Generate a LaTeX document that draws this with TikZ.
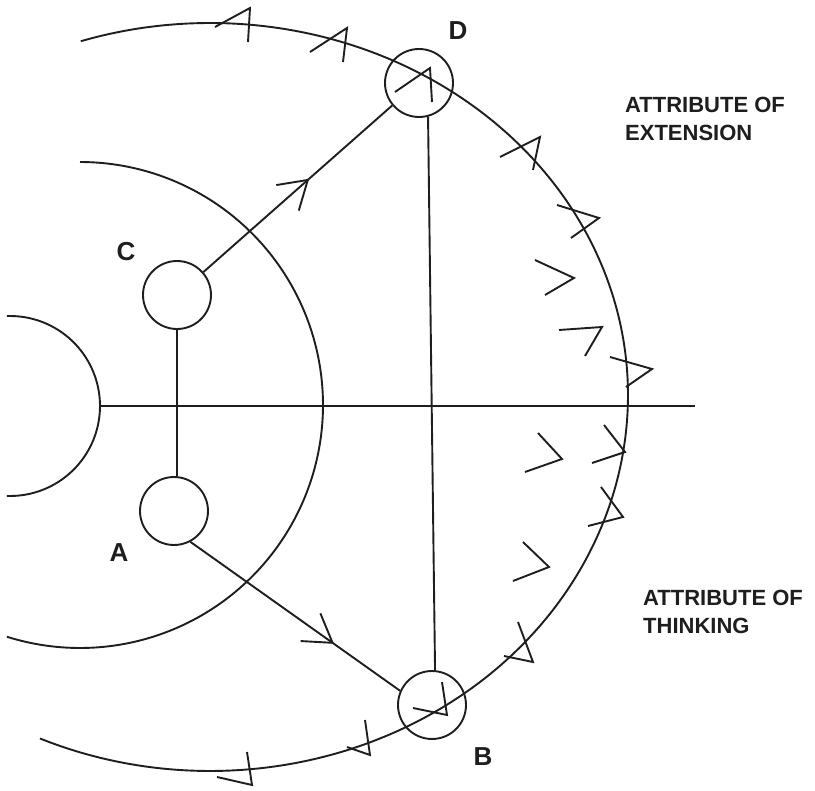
\documentclass[tikz,border=0pt]{standalone}
\usepackage{fontspec}
\setmainfont{Liberation Sans}
\usetikzlibrary{arrows.meta,decorations.markings}
\definecolor{ink}{HTML}{1E1E1E}
\begin{document}
\begin{tikzpicture}[x=1pt,y=-1pt,
  ln/.style={line width=1.9pt,draw=ink},
  ring/.style={circle,draw=ink,line width=1.9pt,minimum size=68pt,inner sep=0pt},
  lbl/.style={font=\fontsize{26}{26}\selectfont\bfseries,inner sep=0pt,text=ink},
  attr/.style={font=\fontsize{22}{28}\selectfont\bfseries,inner sep=0pt,align=left,anchor=north west,text=ink},
  chev/.style={line width=1.9pt,draw=ink,line join=miter},
  midarrow/.style={postaction={decorate},decoration={markings,mark=at position #1 with {\arrow{Straight Barb[length=27pt,width=34pt]}}}}
]
\useasboundingbox (0,0) rectangle (815,791);

% outer, middle, inner curves
\draw[ln] plot[domain=-114:108,samples=150,smooth] ({210+418*cos(\x)},{395-(\x<0 ? 376 : 372)*sin(\x)});
\draw[ln] plot[domain=-107.5:90,samples=120,smooth] ({80+243*cos(\x)},{405-243*sin(\x)});
\draw[ln] plot[domain=-92:92,samples=80,smooth] ({10+90*cos(\x)},{406-90*sin(\x)});

% horizontal axis
\coordinate (h1) at (100,406);
\coordinate (h2) at (695,406);
\draw[ln] (h1) -- (h2);

% nodes
\node[ring] (C) at (177,295) {};
\node[ring] (A) at (174,511) {};
\node[ring] (D) at (419,83) {};
\node[ring] (B) at (432,705) {};

\node[lbl] (lD) at (458,31) {D};
\node[lbl] (lC) at (126,252) {C};
\node[lbl] (lA) at (119,553) {A};
\node[lbl] (lB) at (483,757) {B};

\node[attr] (ext) at (625,97) {ATTRIBUTE OF\\EXTENSION};
\node[attr] (thk) at (643,590) {ATTRIBUTE OF\\THINKING};

% connectors
\draw[ln] (C.south) -- (A.85);
\draw[ln] (D.-75) -- (B.85);
\draw[ln,midarrow=0.56] (C.41) -- (D.220);
\draw[ln,midarrow=0.685] (A.-62) -- (B.156);

% chevron marks
\draw[chev] (215,27) -- (250,8) -- (248,42);
\draw[chev] (310,52) -- (347,28) -- (343,62);
\draw[chev] (395,92) -- (430,68) -- (432,102);
\draw[chev] (500,157) -- (540,137) -- (533,170);
\draw[chev] (557,205) -- (599,218) -- (571,238);
\draw[chev] (535,260) -- (574,278) -- (545,295);
\draw[chev] (559,330) -- (602,327) -- (585,356);
\draw[chev] (610,357) -- (652,369) -- (626,387);
\draw[chev] (538,433) -- (562,459) -- (525,472);
\draw[chev] (604,425) -- (625,452) -- (592,463);
\draw[chev] (601,487) -- (623,517) -- (588,526);
\draw[chev] (523,542) -- (549,567) -- (513,581);
\draw[chev] (518,622) -- (533,662) -- (504,656);
\draw[chev] (442,682) -- (447,715) -- (413,708);
\draw[chev] (365,720) -- (370,755) -- (347,747);
\draw[chev] (247,752) -- (252,785) -- (217,777);
\end{tikzpicture}
\end{document}
